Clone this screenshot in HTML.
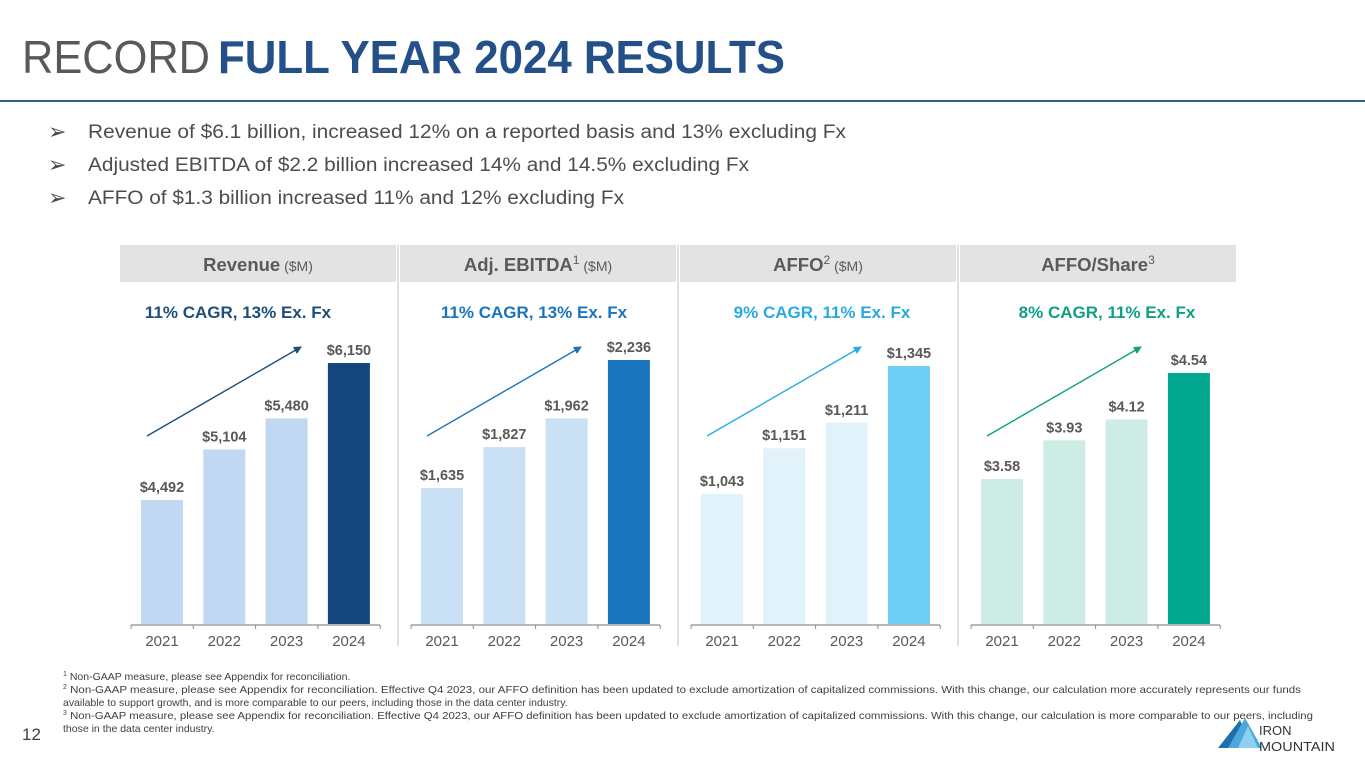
<!DOCTYPE html>
<html><head><meta charset="utf-8"><style>
html,body{margin:0;padding:0;background:#fff;}
svg{display:block;font-family:"Liberation Sans",Arial,sans-serif;}
</style></head><body>
<svg id="chart" width="1365" height="768" viewBox="0 0 1365 768" xmlns="http://www.w3.org/2000/svg">
<defs>
<marker id="ah1" markerWidth="8" markerHeight="8" refX="7" refY="4" orient="auto" markerUnits="userSpaceOnUse"><path d="M0,0 L8,4 L0,8 z" fill="#1f4e79"/></marker>
<marker id="ah2" markerWidth="8" markerHeight="8" refX="7" refY="4" orient="auto" markerUnits="userSpaceOnUse"><path d="M0,0 L8,4 L0,8 z" fill="#1b75bc"/></marker>
<marker id="ah3" markerWidth="8" markerHeight="8" refX="7" refY="4" orient="auto" markerUnits="userSpaceOnUse"><path d="M0,0 L8,4 L0,8 z" fill="#29abe2"/></marker>
<marker id="ah4" markerWidth="8" markerHeight="8" refX="7" refY="4" orient="auto" markerUnits="userSpaceOnUse"><path d="M0,0 L8,4 L0,8 z" fill="#0fa083"/></marker>
</defs>
<g>
<text x="22" y="73" font-size="46" fill="#595959" textLength="188" lengthAdjust="spacingAndGlyphs">RECORD</text>
<text x="218" y="73" font-size="46" font-weight="bold" fill="#24508a" textLength="567" lengthAdjust="spacingAndGlyphs">FULL YEAR 2024 RESULTS</text>
</g>
<rect x="0" y="100" width="1365" height="2" fill="#2f5f8f"/>
<g font-size="19" fill="#4d4d4d">
<text x="48" y="139" font-size="22">➢</text><text x="88" y="138" textLength="758" lengthAdjust="spacingAndGlyphs">Revenue of $6.1 billion, increased 12% on a reported basis and 13% excluding Fx</text>
<text x="48" y="172" font-size="22">➢</text><text x="88" y="171" textLength="661" lengthAdjust="spacingAndGlyphs">Adjusted EBITDA of $2.2 billion increased 14% and 14.5% excluding Fx</text>
<text x="48" y="205" font-size="22">➢</text><text x="88" y="204" textLength="536" lengthAdjust="spacingAndGlyphs">AFFO of $1.3 billion increased 11% and 12% excluding Fx</text>
</g>
<g id="panels"></g>
<g font-size="10.5" fill="#404040">
<text x="63" y="680"><tspan font-size="7" dy="-4">1</tspan><tspan dy="4"> Non-GAAP measure, please see Appendix for reconciliation.</tspan></text>
<text x="63" y="693"><tspan font-size="7" dy="-4">2</tspan><tspan dy="4" textLength="1234" lengthAdjust="spacingAndGlyphs"> Non-GAAP measure, please see Appendix for reconciliation. Effective Q4 2023, our AFFO definition has been updated to exclude amortization of capitalized commissions. With this change, our calculation more accurately represents our funds</tspan></text>
<text x="63" y="706">available to support growth, and is more comparable to our peers, including those in the data center industry.</text>
<text x="63" y="719"><tspan font-size="7" dy="-4">3</tspan><tspan dy="4" textLength="1246" lengthAdjust="spacingAndGlyphs"> Non-GAAP measure, please see Appendix for reconciliation. Effective Q4 2023, our AFFO definition has been updated to exclude amortization of capitalized commissions. With this change, our calculation is more comparable to our peers, including</tspan></text>
<text x="63" y="732">those in the data center industry.</text>
</g>
<text x="22" y="740" font-size="17" fill="#404040">12</text>
<g>
<polygon points="1218,748 1240,720 1252,748" fill="#1f6fa8"/>
<polygon points="1228,748 1245,718 1262,748" fill="#4aa8dc"/>
<polygon points="1238,748 1248,726 1258,748" fill="#8fd0f0"/>
<text x="1259" y="735" font-size="13" fill="#333">IRON</text>
<text x="1259" y="751" font-size="13" fill="#333" textLength="76" lengthAdjust="spacingAndGlyphs">MOUNTAIN</text>
</g>
</svg>
<script>
const years = ["2021","2022","2023","2024"];
const revenueValues = [4492, 5104, 5480, 6150];
const ebitdaValues = [1635, 1827, 1962, 2236];
const affoValues = [1043, 1151, 1211, 1345];
const affoShareValues = [3.58, 3.93, 4.12, 4.54];
const revenueLabels = ["$4,492","$5,104","$5,480","$6,150"];
const ebitdaLabels = ["$1,635","$1,827","$1,962","$2,236"];
const affoLabels = ["$1,043","$1,151","$1,211","$1,345"];
const affoShareLabels = ["$3.58","$3.93","$4.12","$4.54"];
const cagrTexts = ["11% CAGR, 13% Ex. Fx","11% CAGR, 13% Ex. Fx","9% CAGR, 11% Ex. Fx","8% CAGR, 11% Ex. Fx"];

const NS = "http://www.w3.org/2000/svg";
const root = document.getElementById('panels');
function mk(tag, attrs, parent){const e=document.createElementNS(NS,tag);for(const k in attrs)e.setAttribute(k,attrs[k]);parent.appendChild(e);return e;}

const panels = [
 {x:120, title:"Revenue", sup:"", unit:" ($M)", vals:revenueValues, labels:revenueLabels, light:"#c0d8f2", dark:"#15467e", cagr:"#1f4e79", cagrX:238, top0:500, top3:363, marker:"ah1", name:"revenue"},
 {x:400, title:"Adj. EBITDA", sup:"1", unit:" ($M)", vals:ebitdaValues, labels:ebitdaLabels, light:"#c9e0f5", dark:"#1b75bc", cagr:"#1b75bc", cagrX:534, top0:488, top3:360, marker:"ah2", name:"ebitda"},
 {x:680, title:"AFFO", sup:"2", unit:" ($M)", vals:affoValues, labels:affoLabels, light:"#e1f2fb", dark:"#6dcff6", cagr:"#29abe2", cagrX:822, top0:494, top3:366, marker:"ah3", name:"affo"},
 {x:960, title:"AFFO/Share", sup:"3", unit:"", vals:affoShareValues, labels:affoShareLabels, light:"#cdece5", dark:"#00a88f", cagr:"#0fa083", cagrX:1107, top0:479, top3:373, marker:"ah4", name:"affo-share"}
];
const base = 624;
panels.forEach((p,pi)=>{
  const g = mk('g',{},root);
  
  
  const hdr = mk('rect',{x:p.x,y:245,width:276,height:37,fill:"#e3e3e3"},g);
  
  
  if(pi>0){const sep=mk('line',{x1:p.x-2,y1:245,x2:p.x-2,y2:646,stroke:"#d6d6d6","stroke-width":1.5},g);
    
    }
  const t = mk('text',{x:p.x+138,y:271,"text-anchor":"middle","font-size":18.5,"font-weight":"bold",fill:"#5a5a5a"},g);
  
  
  t.appendChild(document.createTextNode(p.title));
  if(p.sup){const s=mk('tspan',{"font-size":12,"font-weight":"normal",dy:-7},t);s.textContent=p.sup;}
  if(p.unit){const u=mk('tspan',{"font-size":14,"font-weight":"normal",dy:p.sup?7:0},t);u.textContent=p.unit;}
  const c = mk('text',{x:p.cagrX,y:318,"text-anchor":"middle","font-size":17,"font-weight":"bold",fill:p.cagr},g);
  
  
  c.textContent = cagrTexts[pi];
  const v0=p.vals[0], v3=p.vals[3];
  const k=(p.top0-p.top3)/(v3-v0);
  const y=v=>p.top0-(v-v0)*k;
  const cx=i=>p.x+42+i*62.3;
  p.vals.forEach((v,i)=>{
    const b=mk('rect',{x:cx(i)-21,y:y(v),width:42,height:base-y(v),fill:i===3?p.dark:p.light},g);
    
    
    const l=mk('text',{x:cx(i),y:y(v)-8,"text-anchor":"middle","font-size":14.5,"font-weight":"bold",fill:"#595959"},g);
    
    
    l.textContent=p.labels[i];
    const xl=mk('text',{x:cx(i),y:646,"text-anchor":"middle","font-size":15,fill:"#595959"},g);
    
    
    xl.textContent=years[i];
  });
  const ax=mk('line',{x1:p.x+11,y1:base+1,x2:p.x+260,y2:base+1,stroke:"#8c8c8c","stroke-width":1.2},g);
  
  
  for(let i=0;i<=4;i++){const tx=p.x+11+i*62.3;mk('line',{x1:tx,y1:base+1,x2:tx,y2:base+5,stroke:"#8c8c8c","stroke-width":1},g);}
  const ar=mk('line',{x1:p.x+27,y1:436,x2:p.x+181,y2:347,stroke:p.cagr,"stroke-width":1.4,"marker-end":"url(#"+p.marker+")"},g);
  
  
});
</script>
</body></html>
